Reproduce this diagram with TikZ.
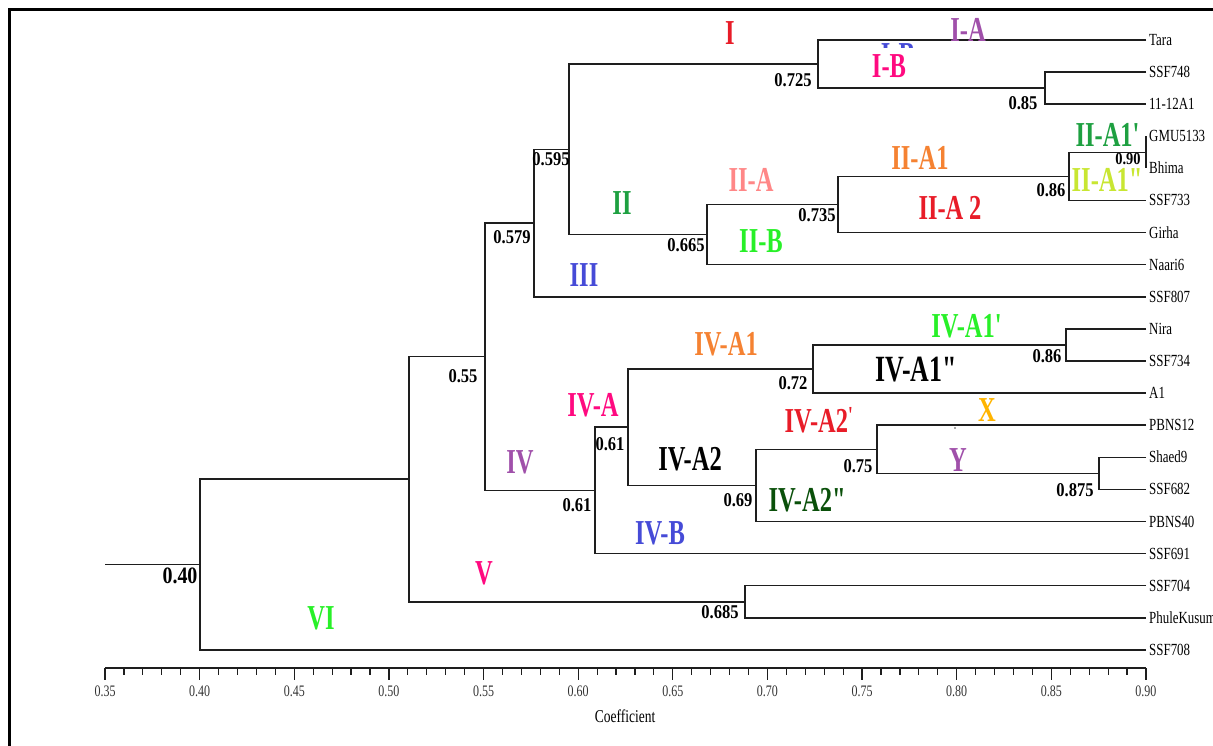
\documentclass[tikz,border=0pt]{standalone}
\usepackage{fontspec}
\newfontfamily\labfont[FakeStretch=0.7]{Liberation Serif}
\newfontfamily\numfont[FakeStretch=0.85]{Liberation Serif}
\newfontfamily\leaffont[FakeStretch=0.76]{Liberation Serif}
\newfontfamily\axfont[FakeStretch=0.75]{Liberation Serif}
\definecolor{cRed}{RGB}{232,28,40}
\definecolor{cPurple}{RGB}{160,80,170}
\definecolor{cPink}{RGB}{255,10,128}
\definecolor{cBlue}{RGB}{70,75,215}
\definecolor{cGreen}{RGB}{30,160,65}
\definecolor{cSalmon}{RGB}{255,135,135}
\definecolor{cLime}{RGB}{40,240,40}
\definecolor{cOrange}{RGB}{245,130,50}
\definecolor{cYGreen}{RGB}{200,230,50}
\definecolor{cDGreen}{RGB}{10,80,10}
\definecolor{cYellow}{RGB}{255,180,0}
\definecolor{cLine}{RGB}{30,30,30}
\newcommand{\pr}{\textquotesingle}
\newcommand{\ppr}{\textquotedbl}
\begin{document}
\begin{tikzpicture}[x=1pt,y=-1pt,
  br/.style={line width=1.5pt, draw=cLine},
  big/.style={font=\labfont\bfseries\fontsize{35}{35}\selectfont, inner sep=0pt},
  num/.style={font=\numfont\bfseries\fontsize{19.5}{19.5}\selectfont, inner sep=0pt},
  leaf/.style={font=\leaffont\fontsize{17}{17}\selectfont, anchor=west, inner xsep=3pt, inner ysep=0pt, text height=11pt, text depth=0pt},
  ticklab/.style={font=\axfont\fontsize{16}{16}\selectfont, text=black!80, inner sep=0pt}]
\useasboundingbox (0,0) rectangle (1213,746);
% frame
\draw[line width=3pt] (9.5,750) -- (9.5,9.5) -- (1216,9.5);
% leaves
\foreach \n/\t [count=\i from 0] in {tara/Tara, s748/SSF748, a1112/11-12A1, gmu/GMU5133, bhima/Bhima, s733/SSF733, girha/Girha, naari/Naari6, s807/SSF807, nira/Nira, s734/SSF734, a1/A1, pbns12/PBNS12, shaed/Shaed9, s682/SSF682, pbns40/PBNS40, s691/SSF691, s704/SSF704, phule/PhuleKusum, s708/SSF708}{
  \pgfmathsetmacro{\yy}{40+32.1*\i}
  \node[leaf] (\n) at (1146,\yy) {\t};
}
% joins
\coordinate (j085) at (1045,88.15);
\coordinate (j0725) at (818,64.1);
\coordinate (j090) at (1146,152.3);
\coordinate (j086a) at (1069,176.4);
\coordinate (j0735) at (838,204.5);
\coordinate (j0665) at (707,234.6);
\coordinate (j0595) at (569,149.3);
\coordinate (j0579) at (534,223);
\coordinate (j086b) at (1066,345);
\coordinate (j072) at (813,369);
\coordinate (j0875) at (1099,473.4);
\coordinate (j075) at (877,449.3);
\coordinate (j069) at (756,485.4);
\coordinate (j061a) at (628,427.2);
\coordinate (j061b) at (595,490.4);
\coordinate (j055) at (485,356.7);
\coordinate (j0685) at (745,601.8);
\coordinate (j051) at (409,479.2);
\coordinate (j040) at (200,564.6);
\coordinate (root) at (105,564.6);
% branches
\draw[br] (s748.west) -| (j085) |- (a1112.west);
\draw[br] (tara.west) -| (j0725) |- (j085);
\draw[br] (gmu.west) -| (j090) |- (bhima.west);
\draw[br] (j090) -| (j086a) |- (s733.west);
\draw[br] (j086a) -| (j0735) |- (girha.west);
\draw[br] (j0735) -| (j0665) |- (naari.west);
\draw[br] (j0725) -| (j0595) |- (j0665);
\draw[br] (j0595) -| (j0579) |- (s807.west);
\draw[br] (nira.west) -| (j086b) |- (s734.west);
\draw[br] (j086b) -| (j072) |- (a1.west);
\draw[br] (shaed.west) -| (j0875) |- (s682.west);
\draw[br] (pbns12.west) -| (j075) |- (j0875);
\draw[br] (j075) -| (j069) |- (pbns40.west);
\draw[br] (j072) -| (j061a) |- (j069);
\draw[br] (j061a) -| (j061b) |- (s691.west);
\draw[br] (j0579) -| (j055) |- (j061b);
\draw[br] (s704.west) -| (j0685) |- (phule.west);
\draw[br] (j055) -| (j051) |- (j0685);
\draw[br] (j051) -| (j040) |- (s708.west);
\draw[br] (root) -- (j040);
% axis
\coordinate (axL) at (105,668);
\coordinate (axR) at (1146,668);
\draw[line width=1.5pt, cLine] (axL) -- (axR);
\foreach \i in {0,...,55}{
  \pgfmathsetmacro{\xx}{105+\i*18.927}
  \pgfmathtruncatemacro{\m}{mod(\i,5)}
  \ifnum\m=0
    \draw[line width=1.2pt, cLine] (\xx,668) -- (\xx,680);
  \else
    \draw[line width=1.2pt, cLine] (\xx,668) -- (\xx,675);
  \fi
}
\foreach \i/\lab in {0/0.35,5/0.40,10/0.45,15/0.50,20/0.55,25/0.60,30/0.65,35/0.70,40/0.75,45/0.80,50/0.85,55/0.90}{
  \pgfmathsetmacro{\xx}{105+\i*18.927}
  \node[ticklab] (t\i) at (\xx,691) {\lab};
}
\node[font=\axfont\fontsize{18}{18}\selectfont, inner sep=0pt] (coef) at (625,716) {Coefficient};
% partially hidden label
\begin{scope}
  \clip (870,41.5) rectangle (925,47.5);
  \node[big, text=cBlue] (ibh) at (898,55) {I-B};
\end{scope}
% cluster labels
\node[big, text=cRed] (lI) at (730,33) {I};
\node[big, text=cPurple] (lIA) at (968,30) {I-A};
\node[big, text=cPink] (lIB) at (889,66) {I-B};
\node[big, text=cGreen] (lIIA1p) at (1109,135) {II-A1\pr};
\node[big, text=cYGreen] (lIIA1pp) at (1110,180) {II-A1\ppr};
\node[big, text=cOrange] (lIIA1) at (920,158) {II-A1};
\node[big, text=cRed] (lIIA2) at (950,208) {II-A\,2};
\node[big, text=cSalmon] (lIIA) at (751,180) {II-A};
\node[big, text=cGreen] (lII) at (622,203) {II};
\node[big, text=cLime] (lIIB) at (761,241) {II-B};
\node[big, text=cBlue] (lIII) at (584,275) {III};
\node[big, text=cPurple] (lIV) at (520,462) {IV};
\node[big, text=cPink] (lIVA) at (593,405) {IV-A};
\node[big, text=black] (lIVA2) at (690,459) {IV-A2};
\node[big, text=cBlue] (lIVB) at (660,533) {IV-B};
\node[big, text=cOrange] (lIVA1) at (726,344) {IV-A1};
\node[big, text=cLime] (lIVA1p) at (968,326) {IV-A1\pr};
\node[big, text=black, font=\labfont\bfseries\fontsize{37}{37}\selectfont] (lIVA1pp) at (919,370) {IV-A1\ppr};
\node[big, text=cYellow] (lX) at (987,410) {X};
\node[big, text=cRed] (lIVA2p) at (820,420) {IV-A2\textsuperscript{\pr}};
\node[circle, fill=black!70, inner sep=0pt, minimum size=1.8pt] (dot) at (955,428) {};
\node[big, text=cPurple] (lY) at (958,460) {Y};
\node[big, text=cDGreen] (lIVA2pp) at (810,500) {IV-A2\ppr};
\node[big, text=cPink] (lV) at (484,573) {V};
\node[big, text=cLime] (lVI) at (321,618) {VI};
% coefficients
\node[num] (n0725) at (793,80) {0.725};
\node[num] (n085) at (1023,103) {0.85};
\node[num, font=\numfont\bfseries\fontsize{17}{17}\selectfont] (n090) at (1128,159) {0.90};
\node[num] (n086a) at (1051,190) {0.86};
\node[num] (n0735) at (817,215) {0.735};
\node[num] (n0665) at (686,245) {0.665};
\node[num] (n0595) at (551,159) {0.595};
\node[num] (n0579) at (512,237) {0.579};
\node[num] (n055) at (463,376) {0.55};
\node[num] (n061a) at (610,444) {0.61};
\node[num] (n061b) at (577,505) {0.61};
\node[num] (n069) at (738,500) {0.69};
\node[num] (n072) at (793,383) {0.72};
\node[num] (n086b) at (1047,356) {0.86};
\node[num] (n075) at (858,466) {0.75};
\node[num] (n0875) at (1075,490) {0.875};
\node[num] (n0685) at (720,612) {0.685};
\node[num, font=\numfont\bfseries\fontsize{23.5}{23.5}\selectfont] (n040) at (180,576) {0.40};
\end{tikzpicture}
\end{document}
